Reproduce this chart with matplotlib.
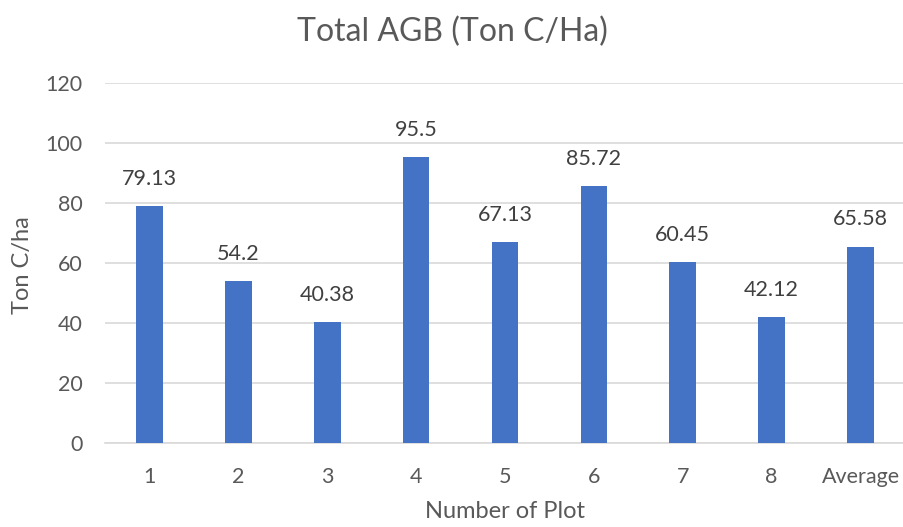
import matplotlib
matplotlib.use("Agg")
import matplotlib.pyplot as plt

categories = ["1", "2", "3", "4", "5", "6", "7", "8", "Average"]
values = [79.13, 54.2, 40.38, 95.5, 67.13, 85.72, 60.45, 42.12, 65.58]
value_labels = ["79.13", "54.2", "40.38", "95.5", "67.13", "85.72", "60.45", "42.12", "65.58"]
yticks = [0, 20, 40, 60, 80, 100, 120]

plt.rcParams['font.family'] = ['Lato', 'DejaVu Sans']
txt = "#595959"

fig = plt.figure(figsize=(9.04, 5.27), dpi=100)
ax = fig.add_axes([105/904, (527-443.3)/527, 800/904, 360/527])

x = list(range(len(categories)))
ax.bar(x, values, width=0.30, color="#4472C4", zorder=3)
for xi, v, lab in zip(x, values, value_labels):
    ax.annotate(lab, (xi, v), xytext=(0, 19.5), textcoords="offset points",
                ha="center", va="center", fontsize=15.5, color="#404040")

ax.set_xlim(-0.5, len(categories) - 0.5)
ax.set_ylim(0, 120)
ax.set_yticks(yticks)
ax.set_xticks(x)
ax.set_xticklabels(categories)
ax.grid(axis="y", color="#D9D9D9", linewidth=1.2, zorder=0)
for s in ["top", "right", "left"]:
    ax.spines[s].set_visible(False)
ax.spines["bottom"].set_color("#D9D9D9")
ax.spines["bottom"].set_linewidth(1.2)
ax.tick_params(axis="both", length=0, labelsize=15.5, colors=txt)
ax.tick_params(axis="x", pad=17)
ax.tick_params(axis="y", pad=16)

fig.text(505/904, 1 - 512/527, "Number of Plot", ha="center", va="center",
         fontsize=17, color=txt)
fig.text(23/904, 1 - 265/527, "Ton C/ha", ha="center", va="center",
         fontsize=17, color=txt, rotation=90)
fig.text(452/904, 1 - 32/527, "Total AGB (Ton C/Ha)", ha="center", va="center",
         fontsize=23, color=txt)

fig.savefig("out.png", dpi=100)
